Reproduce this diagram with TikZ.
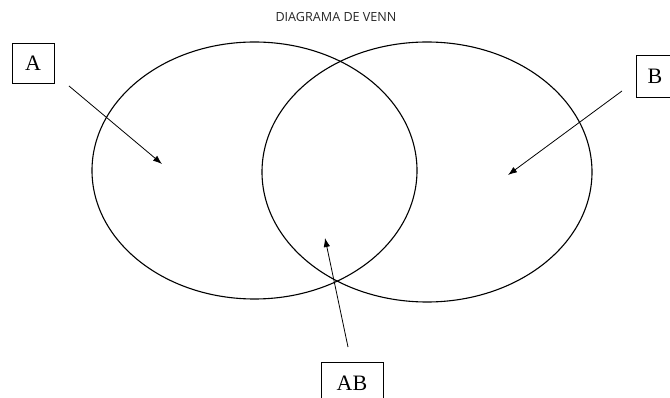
\documentclass[tikz,border=0pt]{standalone}
\usepackage{fontspec}
\usetikzlibrary{arrows.meta}
\setmainfont{Liberation Serif}
\newfontfamily\titlefont{Open Sans}
\begin{document}
\begin{tikzpicture}[x=1pt,y=-1pt,
        labelbox/.style={draw,line width=0.8pt,inner sep=0pt,font=\fontsize{22}{22}\selectfont},
        pointer/.style={-{Latex[length=9pt,width=6.5pt]},line width=0.8pt}]
            \useasboundingbox (0,0) rectangle (670,398);

            \node[font=\titlefont\fontsize{12.6}{12.6}\selectfont,text=black!85] (title) at (336,17) {DIAGRAMA DE VENN};

            \draw[line width=1.1pt] (254.5,170.5) ellipse (162.5 and 128.5);
            \draw[line width=1.1pt] (427,172) ellipse (165 and 130);

            \node[labelbox,minimum width=42pt,minimum height=40pt] (A) at (33,63) {A};
            \node[labelbox,minimum width=38pt,minimum height=42pt] (B) at (655,76) {B};
            \node[labelbox,minimum width=62pt,minimum height=42pt] (AB) at (352,383) {AB};

            \coordinate (tA) at (69,86);
            \coordinate (hA) at (162,164);
            \coordinate (tB) at (622,91);
            \coordinate (hB) at (508,175);
            \coordinate (tAB) at (348,347);
            \coordinate (hAB) at (325,238);

            \draw[pointer] (tA)--(hA);
            \draw[pointer] (tB)--(hB);
            \draw[pointer] (tAB)--(hAB);
        \end{tikzpicture}
\end{document}
